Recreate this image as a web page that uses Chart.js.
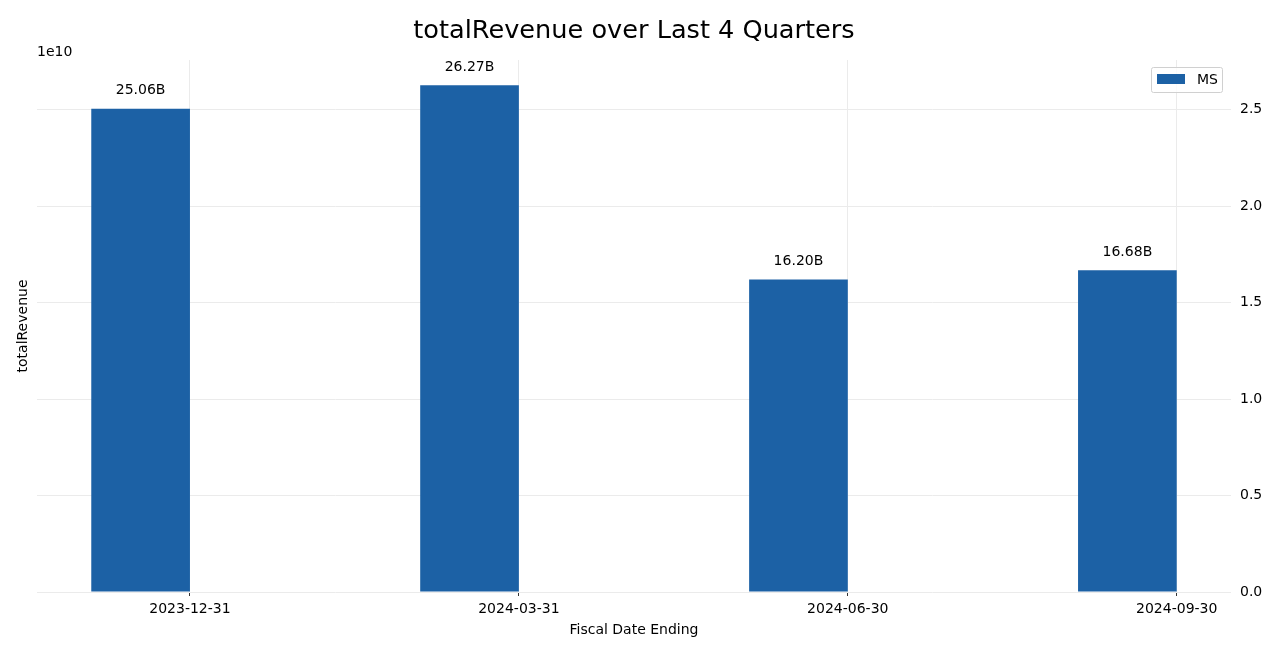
<!DOCTYPE html>
<html>
<head>
<meta charset="utf-8">
<script src="https://cdn.jsdelivr.net/npm/chart.js@4.4.1/dist/chart.umd.min.js"></script>
<style>
html,body{margin:0;padding:0;background:#fff;}
#wrap{width:1280px;height:656px;}
</style>
</head>
<body>
<div id="wrap"><canvas id="c" width="1280" height="656"></canvas></div>
<script>
const categories = ['2023-12-31', '2024-03-31', '2024-06-30', '2024-09-30'];
const seriesName = 'MS';
const revenue = [25.06e9, 26.27e9, 16.20e9, 16.68e9];
const yTicks = [0, 0.5e10, 1.0e10, 1.5e10, 2.0e10, 2.5e10];
const barColor = '#1c61a5';
const FONT = "'DejaVu Sans', sans-serif";

const points = revenue.map((v, i) => ({x: i - 0.15, y: v}));
const yMax = Math.max(...revenue) * 1.05;

const overlay = {
  id: 'overlay',
  afterDraw(chart) {
    const ctx = chart.ctx;
    const ca = chart.chartArea;
    ctx.save();
    ctx.fillStyle = '#000';
    // title
    ctx.font = '25.6px ' + FONT;
    ctx.textAlign = 'center';
    ctx.textBaseline = 'middle';
    ctx.fillText('totalRevenue over Last 4 Quarters', (ca.left + ca.right) / 2, 31);
    // x title
    ctx.font = '14px ' + FONT;
    ctx.fillText('Fiscal Date Ending', (ca.left + ca.right) / 2, 630);
    // offset text
    ctx.textAlign = 'left';
    ctx.fillText('1e10', ca.left, 52);
    // y title
    ctx.save();
    ctx.translate(23, (ca.top + ca.bottom) / 2);
    ctx.rotate(-Math.PI / 2);
    ctx.textAlign = 'center';
    ctx.fillText('totalRevenue', 0, 0);
    ctx.restore();
    // data labels
    const meta = chart.getDatasetMeta(0);
    ctx.textAlign = 'center';
    meta.data.forEach((bar, i) => {
      const v = chart.data.datasets[0].data[i].y;
      ctx.fillText((v / 1e9).toFixed(2) + 'B', bar.x, bar.y - 18);
    });
    // legend
    const lx = 1151, ly = 67, lw = 71, lh = 25;
    ctx.fillStyle = 'rgba(255,255,255,0.8)';
    ctx.strokeStyle = '#d0d0d0';
    ctx.lineWidth = 1;
    ctx.beginPath();
    ctx.roundRect(lx + 0.5, ly + 0.5, lw, lh, 2);
    ctx.fill();
    ctx.stroke();
    ctx.fillStyle = chart.data.datasets[0].backgroundColor;
    ctx.fillRect(lx + 6, ly + 7, 28, 10);
    ctx.fillStyle = '#000';
    ctx.textAlign = 'left';
    ctx.fillText(chart.data.datasets[0].label, lx + 46, ly + 13);
    ctx.restore();
  }
};

new Chart(document.getElementById('c'), {
  type: 'bar',
  data: {
    datasets: [{
      label: seriesName,
      data: points,
      backgroundColor: barColor,
      borderWidth: 0,
      categoryPercentage: 1.0,
      barPercentage: 0.3
    }]
  },
  options: {
    responsive: false,
    animation: false,
    layout: {padding: {left: 37, top: 60, right: 0, bottom: 0}},
    plugins: {legend: {display: false}, tooltip: {enabled: false}},
    scales: {
      x: {
        type: 'linear',
        offset: false,
        min: -0.465,
        max: 3.165,
        afterBuildTicks(scale) { scale.ticks = categories.map((c, i) => ({value: i})); },
        afterFit(scale) { scale.height = 64; },
        ticks: {
          callback: (v) => categories[v] ?? '',
          color: '#000',
          font: {family: FONT, size: 14},
          padding: 5,
          maxRotation: 0,
          autoSkip: false
        },
        grid: {offset: false, color: '#ebebeb', tickColor: '#333', tickLength: 4, lineWidth: 1},
        border: {display: false}
      },
      y: {
        position: 'right',
        min: 0,
        max: yMax,
        afterBuildTicks(scale) { scale.ticks = yTicks.map(v => ({value: v})); },
        afterFit(scale) { scale.width = 49; },
        ticks: {
          callback: (v) => (v / 1e10).toFixed(1),
          color: '#000',
          font: {family: FONT, size: 14},
          padding: 9
        },
        grid: {color: '#ebebeb', drawTicks: false},
        border: {display: false}
      }
    }
  },
  plugins: [overlay]
});
</script>
</body>
</html>
